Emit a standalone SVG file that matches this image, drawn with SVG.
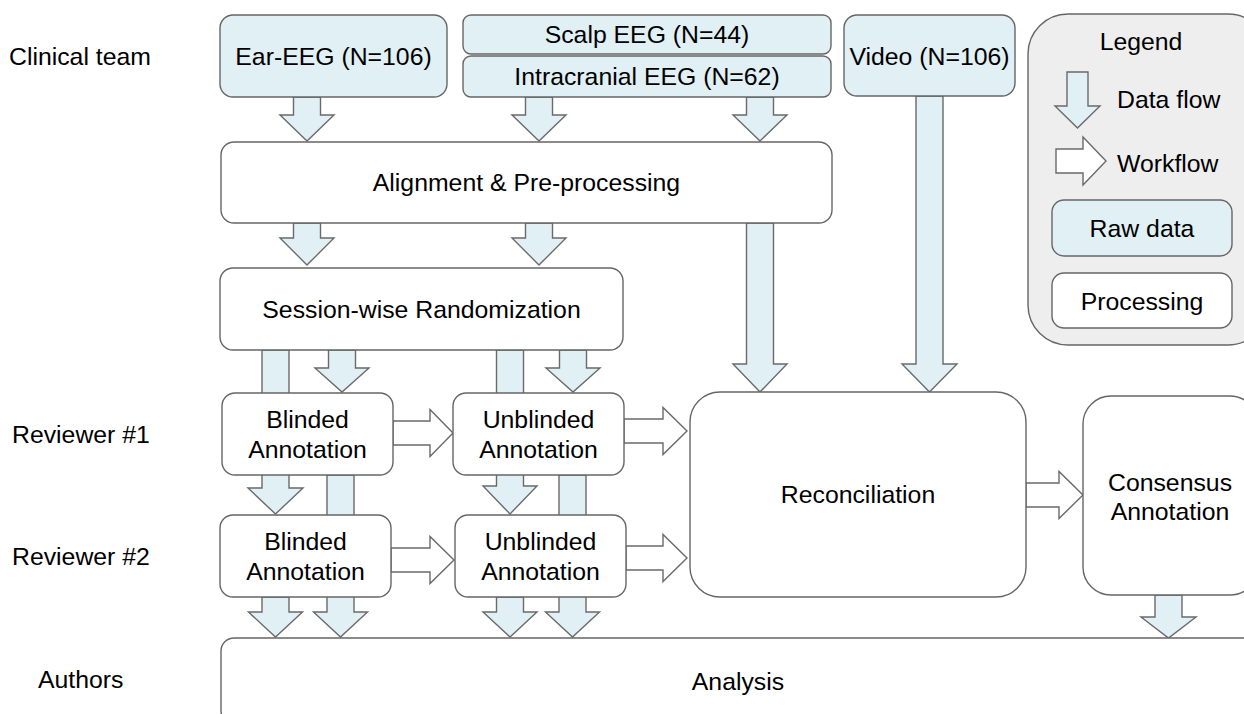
<svg xmlns="http://www.w3.org/2000/svg" width="1244" height="714" viewBox="0 0 1244 714">
<style>
text{font-family:"Liberation Sans",Arial,sans-serif;font-size:24.8px;fill:#000;text-anchor:middle}
.lbl{text-anchor:start}
.raw{fill:#e0f0f5;stroke:#666;stroke-width:1.4}
.proc{fill:#fff;stroke:#666;stroke-width:1.4}
.df{fill:#e0f0f5;stroke:#6a6a6a;stroke-width:1.4;stroke-linejoin:miter}
.wf{fill:#fff;stroke:#6a6a6a;stroke-width:1.4;stroke-linejoin:miter}
</style>
<rect width="1244" height="714" fill="#fff"/>
<g id="row-labels">
<text class="lbl" x="9" y="65">Clinical team</text>
<text class="lbl" x="12" y="443">Reviewer #1</text>
<text class="lbl" x="12" y="565">Reviewer #2</text>
<text class="lbl" x="38" y="688">Authors</text>
</g>
<g id="connectors">
<polygon class="df" points="293.5,97 320.5,97 320.5,115 334,115 307,141 280,115 293.5,115"/>
<polygon class="df" points="525.5,97 552.5,97 552.5,115 566,115 539,141 512,115 525.5,115"/>
<polygon class="df" points="746.5,97 773.5,97 773.5,115 787,115 760,141 733,115 746.5,115"/>
<polygon class="df" points="916,96 943,96 943,364 957,364 929.5,392 902,364 916,364"/>
<polygon class="df" points="293.5,223 320.5,223 320.5,238 334,238 307,265 280,238 293.5,238"/>
<polygon class="df" points="525.5,223 552.5,223 552.5,238 566,238 539,265 512,238 525.5,238"/>
<polygon class="df" points="746.5,223 773.5,223 773.5,364 787,364 760,392 733,364 746.5,364"/>
<polygon class="df" points="262,350 289,350 289,488 303,488 275.5,514 248,488 262,488"/>
<polygon class="df" points="328.5,350 355.5,350 355.5,368 369,368 342,392 315,368 328.5,368"/>
<polygon class="df" points="496.5,350 523.5,350 523.5,486 537,486 510,514 483,486 496.5,486"/>
<polygon class="df" points="559.5,350 586.5,350 586.5,368 600,368 573,392 546,368 559.5,368"/>
<polygon class="df" points="327,475 354,475 354,612 367.5,612 340.5,637 313.5,612 327,612"/>
<polygon class="df" points="559,475 586,475 586,612 599.5,612 572.5,637 545.5,612 559,612"/>
<polygon class="df" points="262,597 289,597 289,612 302.5,612 275.5,637 248.5,612 262,612"/>
<polygon class="df" points="496.5,597 523.5,597 523.5,612 537,612 510,637 483,612 496.5,612"/>
<polygon class="df" points="1155,595 1182,595 1182,617 1196,617 1168.5,638 1141,617 1155,617"/>
<polygon class="wf" points="393,421 430,421 430,409.5 453,433 430,456.5 430,445 393,445"/>
<polygon class="wf" points="391,548 430,548 430,536.5 454,560 430,583.5 430,572 391,572"/>
<polygon class="wf" points="624,419 663,419 663,407.5 687,431 663,454.5 663,443 624,443"/>
<polygon class="wf" points="626,546 663,546 663,534.5 687,558 663,581.5 663,570 626,570"/>
<polygon class="wf" points="1026,483 1059,483 1059,471.5 1083,495 1059,518.5 1059,507 1026,507"/>
</g>
<g id="ear-eeg"><rect class="raw" x="220" y="15" width="227" height="82" rx="13"/><text x="333.5" y="65">Ear-EEG (N=106)</text></g>
<g id="scalp-eeg"><rect class="raw" x="463" y="15" width="368" height="39" rx="8"/><text x="647" y="43">Scalp EEG (N=44)</text></g>
<g id="intracranial-eeg"><rect class="raw" x="463" y="56" width="368" height="41" rx="8"/><text x="647" y="85">Intracranial EEG (N=62)</text></g>
<g id="video"><rect class="raw" x="844" y="15" width="171" height="81" rx="13"/><text x="929.5" y="65">Video (N=106)</text></g>
<g id="legend">
<rect x="1028" y="14" width="240" height="331" rx="40" fill="#eeeeee" stroke="#666" stroke-width="1.4"/>
<text x="1141" y="50">Legend</text>
<polygon class="df" points="1067,72 1088,72 1088,106 1100,106 1077.5,128 1055,106 1067,106"/>
<text class="lbl" x="1117" y="108">Data flow</text>
<polygon class="wf" points="1056,149 1083,149 1083,137 1106,161 1083,185 1083,173 1056,173"/>
<text class="lbl" x="1117" y="172">Workflow</text>
<rect class="raw" x="1052" y="200" width="180" height="56" rx="12"/><text x="1142" y="237">Raw data</text>
<rect class="proc" x="1052" y="273" width="180" height="55" rx="12"/><text x="1142" y="310">Processing</text>
</g>
<g id="alignment"><rect class="proc" x="221" y="142" width="611" height="81" rx="13"/><text x="526.5" y="191">Alignment &amp; Pre-processing</text></g>
<g id="randomization"><rect class="proc" x="220" y="268" width="403" height="82" rx="13"/><text x="421.5" y="318">Session-wise Randomization</text></g>
<g id="r1-blinded"><rect class="proc" x="222" y="393" width="171" height="82" rx="13"/><text x="307.5" y="428">Blinded</text><text x="307.5" y="458">Annotation</text></g>
<g id="r1-unblinded"><rect class="proc" x="453" y="393" width="171" height="82" rx="13"/><text x="538.5" y="428">Unblinded</text><text x="538.5" y="458">Annotation</text></g>
<g id="r2-blinded"><rect class="proc" x="220" y="515" width="171" height="82" rx="13"/><text x="305.5" y="550">Blinded</text><text x="305.5" y="580">Annotation</text></g>
<g id="r2-unblinded"><rect class="proc" x="455" y="515" width="171" height="82" rx="13"/><text x="540.5" y="550">Unblinded</text><text x="540.5" y="580">Annotation</text></g>
<g id="reconciliation"><rect class="proc" x="690" y="392" width="336" height="205" rx="30"/><text x="858" y="503">Reconciliation</text></g>
<g id="consensus"><rect class="proc" x="1083" y="396" width="175" height="199" rx="28"/><text x="1170" y="491">Consensus</text><text x="1170" y="520">Annotation</text></g>
<g id="analysis"><rect class="proc" x="221" y="638" width="1040" height="86" rx="13"/><text x="738" y="690">Analysis</text></g>
</svg>
